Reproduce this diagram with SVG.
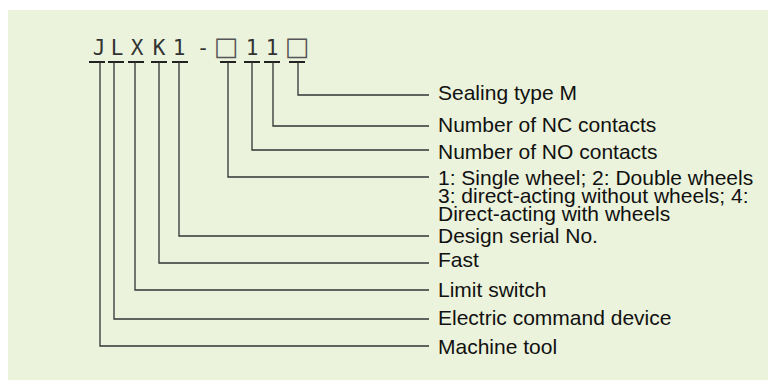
<svg xmlns="http://www.w3.org/2000/svg" width="768" height="380" viewBox="0 0 768 380">
<style>
.bg{fill:#EBF3DC}
.code{font-family:"DejaVu Sans Mono",monospace;font-size:21px;fill:#333;text-anchor:middle}
.box{font-family:"DejaVu Sans",sans-serif;font-size:26px;fill:#555;text-anchor:middle}
.lbl{font-family:"Liberation Sans",Arial,sans-serif;font-size:21px;fill:#111}
.ul{stroke:#222;stroke-width:2;fill:none}
.ln{stroke:#333;stroke-width:1.3;fill:none}
</style>
<rect class="bg" x="8" y="10" width="760" height="372"/>
<g id="code">
<text class="code" x="99" y="55">J</text>
<text class="code" x="117" y="55">L</text>
<text class="code" x="137" y="55">X</text>
<text class="code" x="159" y="55">K</text>
<text class="code" x="179" y="55">1</text>
<text class="code" x="203" y="55">-</text>
<text class="box" x="226" y="55">□</text>
<text class="code" x="252" y="55">1</text>
<text class="code" x="272" y="55">1</text>
<text class="box" x="297" y="55">□</text>
</g>
<g id="underlines">
<path class="ul" d="M89 62h16M108 62h16M128 62h16M151 62h16M172 62h16M220 62h16M244 62h16M264 62h16M289 62h16"/>
</g>
<g id="connectors">
<path class="ln" d="M298 62V95H429"/>
<path class="ln" d="M273 62V126H429"/>
<path class="ln" d="M252 62V150H429"/>
<path class="ln" d="M228 62V177H429"/>
<path class="ln" d="M179 62V236H429"/>
<path class="ln" d="M159 62V263H429"/>
<path class="ln" d="M135 62V290H429"/>
<path class="ln" d="M114 62V319H429"/>
<path class="ln" d="M100 62V346H429"/>
</g>
<g id="labels">
<text class="lbl" x="438" y="100">Sealing type M</text>
<text class="lbl" x="438" y="132">Number of NC contacts</text>
<text class="lbl" x="438" y="159">Number of NO contacts</text>
<text class="lbl" x="438" y="185">1: Single wheel; 2: Double wheels<tspan x="438" dy="18">3: direct-acting without wheels; 4:</tspan><tspan x="438" dy="18">Direct-acting with wheels</tspan></text>
<text class="lbl" x="438" y="243">Design serial No.</text>
<text class="lbl" x="438" y="267">Fast</text>
<text class="lbl" x="438" y="297">Limit switch</text>
<text class="lbl" x="438" y="325">Electric command device</text>
<text class="lbl" x="438" y="354">Machine tool</text>
</g>
</svg>
